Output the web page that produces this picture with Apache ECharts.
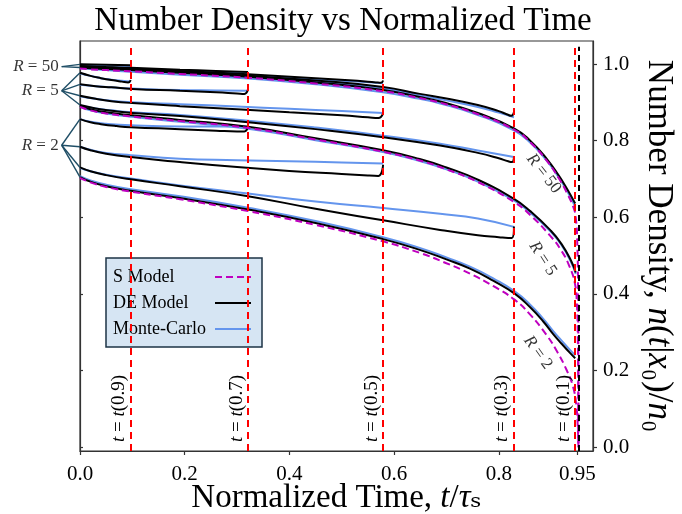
<!DOCTYPE html>
<html>
<head>
<meta charset="utf-8">
<script src="https://cdn.jsdelivr.net/npm/echarts@6/dist/echarts.min.js"></script>
<style>
  html, body { margin: 0; padding: 0; background: #ffffff; }
  #chart { width: 682px; height: 514px; }
</style>
</head>
<body>
<div id="chart"></div>
<script>
// ---- axis ticks and reference times ----
const xTicks = [0, 0.2, 0.4, 0.6, 0.8, 0.95];
const yTicks = [0, 0.2, 0.4, 0.6, 0.8, 1.0];
const cutTimes = [0.097, 0.321, 0.579, 0.829, 0.946];
const cutFractions = ['0.9', '0.7', '0.5', '0.3', '0.1'];
const singularTime = 0.952;

// ---- R = 50 : full curves [t/tau_s, n/n0] ----
const r50FullDE = [[0,0.991],[0.02,0.989],[0.05,0.987],[0.097,0.984],[0.191,0.977],[0.321,0.967],[0.45,0.952],[0.579,0.932],[0.649,0.914],[0.688,0.902],[0.76,0.872],[0.829,0.832],[0.86,0.800],[0.892,0.752],[0.915,0.708],[0.93,0.675],[0.946,0.636]];
const r50FullS  = [[0,0.988],[0.02,0.986],[0.05,0.984],[0.097,0.981],[0.191,0.974],[0.321,0.964],[0.45,0.949],[0.579,0.929],[0.649,0.911],[0.688,0.899],[0.76,0.869],[0.829,0.829],[0.86,0.796],[0.892,0.747],[0.915,0.701],[0.93,0.664],[0.942,0.628],[0.947,0.600],[0.950,0.530],[0.9515,0.400],[0.952,0.220],[0.9522,0]];
const r50FullMC = [[0,0.989],[0.02,0.987],[0.05,0.984],[0.097,0.980],[0.191,0.972],[0.321,0.962],[0.45,0.947],[0.579,0.926],[0.649,0.909],[0.688,0.897],[0.76,0.867],[0.829,0.827],[0.86,0.795],[0.892,0.747],[0.915,0.703],[0.93,0.670],[0.946,0.628]];
// ---- R = 50 : runs stopped at t(p) ----
const r50Cut09DE = [[0,0.999],[0.05,0.998],[0.097,0.997]];
const r50Cut09MC = [[0,0.998],[0.05,0.996],[0.097,0.995]];
const r50Cut07DE = [[0,0.995],[0.05,0.992],[0.097,0.990],[0.191,0.985],[0.26,0.982],[0.321,0.979]];
const r50Cut07MC = [[0,0.994],[0.05,0.991],[0.097,0.988],[0.191,0.983],[0.26,0.980],[0.321,0.977]];
const r50Cut05DE = [[0,0.994],[0.097,0.988],[0.191,0.982],[0.321,0.973],[0.45,0.963],[0.53,0.956],[0.565,0.952],[0.575,0.951],[0.579,0.957]];
const r50Cut05MC = [[0,0.993],[0.097,0.986],[0.191,0.980],[0.321,0.970],[0.45,0.960],[0.53,0.954],[0.579,0.950]];
const r50Cut03DE = [[0,0.992],[0.097,0.986],[0.191,0.979],[0.321,0.969],[0.45,0.957],[0.579,0.940],[0.649,0.922],[0.70,0.910],[0.76,0.893],[0.80,0.877],[0.815,0.869],[0.824,0.865],[0.829,0.874]];
const r50Cut03MC = [[0,0.991],[0.097,0.984],[0.191,0.977],[0.321,0.966],[0.45,0.954],[0.579,0.936],[0.649,0.918],[0.70,0.905],[0.76,0.888],[0.80,0.873],[0.829,0.861]];

// ---- R = 5 : full curves ----
const r5FullDE = [[0,0.891],[0.02,0.882],[0.05,0.874],[0.099,0.866],[0.191,0.854],[0.321,0.836],[0.45,0.806],[0.579,0.775],[0.649,0.752],[0.70,0.730],[0.76,0.698],[0.829,0.648],[0.86,0.616],[0.898,0.567],[0.92,0.530],[0.939,0.484],[0.947,0.456]];
const r5FullS  = [[0,0.888],[0.02,0.879],[0.05,0.871],[0.099,0.863],[0.191,0.851],[0.321,0.833],[0.45,0.803],[0.579,0.771],[0.649,0.748],[0.70,0.725],[0.76,0.692],[0.829,0.640],[0.86,0.606],[0.898,0.552],[0.92,0.512],[0.935,0.472],[0.945,0.430],[0.949,0.380],[0.951,0.280],[0.952,0.120],[0.9522,0]];
const r5FullMC = [[0,0.889],[0.02,0.879],[0.05,0.871],[0.099,0.862],[0.191,0.849],[0.321,0.831],[0.45,0.801],[0.579,0.770],[0.649,0.747],[0.70,0.725],[0.76,0.693],[0.829,0.644],[0.86,0.612],[0.898,0.564],[0.92,0.527],[0.939,0.480],[0.947,0.452]];
// ---- R = 5 : runs stopped at t(p) ----
const r5Cut09DE = [[0,0.977],[0.02,0.969],[0.04,0.963],[0.06,0.958],[0.08,0.954],[0.092,0.952],[0.097,0.958]];
const r5Cut09MC = [[0,0.976],[0.02,0.969],[0.04,0.963],[0.06,0.959],[0.08,0.956],[0.097,0.954]];
const r5Cut07DE = [[0,0.947],[0.03,0.942],[0.06,0.939],[0.1,0.935],[0.191,0.930],[0.26,0.926],[0.30,0.923],[0.314,0.922],[0.321,0.934]];
const r5Cut07MC = [[0,0.946],[0.03,0.942],[0.06,0.939],[0.1,0.936],[0.191,0.932],[0.26,0.931],[0.321,0.930]];
const r5Cut05DE = [[0,0.917],[0.03,0.909],[0.06,0.903],[0.1,0.898],[0.191,0.890],[0.3,0.882],[0.4,0.874],[0.5,0.866],[0.55,0.861],[0.57,0.859],[0.579,0.871]];
const r5Cut05MC = [[0,0.916],[0.03,0.909],[0.06,0.904],[0.1,0.900],[0.191,0.895],[0.3,0.889],[0.4,0.883],[0.5,0.877],[0.579,0.872]];
const r5Cut03DE = [[0,0.893],[0.03,0.884],[0.06,0.878],[0.1,0.872],[0.191,0.864],[0.321,0.848],[0.45,0.830],[0.579,0.809],[0.688,0.787],[0.76,0.768],[0.80,0.754],[0.818,0.746],[0.825,0.744],[0.829,0.756]];
const r5Cut03MC = [[0,0.892],[0.03,0.884],[0.06,0.879],[0.1,0.874],[0.191,0.867],[0.321,0.852],[0.45,0.834],[0.579,0.813],[0.688,0.792],[0.76,0.774],[0.829,0.757]];

// ---- R = 2 : full curves ----
const r2FullDE = [[0,0.705],[0.02,0.693],[0.05,0.681],[0.097,0.669],[0.191,0.650],[0.321,0.620],[0.45,0.585],[0.579,0.543],[0.649,0.515],[0.70,0.490],[0.745,0.466],[0.79,0.434],[0.831,0.400],[0.86,0.365],[0.885,0.328],[0.904,0.295],[0.92,0.270],[0.936,0.246],[0.946,0.232]];
const r2FullS  = [[0,0.703],[0.02,0.691],[0.05,0.679],[0.097,0.667],[0.191,0.647],[0.321,0.616],[0.45,0.580],[0.579,0.537],[0.649,0.507],[0.70,0.480],[0.745,0.453],[0.79,0.420],[0.83,0.385],[0.86,0.346],[0.89,0.295],[0.91,0.253],[0.93,0.200],[0.942,0.157],[0.948,0.110],[0.951,0.050],[0.9522,0]];
const r2FullMC = [[0,0.707],[0.02,0.696],[0.05,0.685],[0.097,0.673],[0.191,0.655],[0.321,0.625],[0.45,0.590],[0.579,0.548],[0.649,0.520],[0.70,0.495],[0.745,0.471],[0.79,0.440],[0.831,0.406],[0.86,0.372],[0.885,0.335],[0.904,0.303],[0.92,0.278],[0.936,0.254],[0.946,0.240]];
// ---- R = 2 : runs stopped at t(p) ----
const r2Cut07DE = [[0,0.856],[0.02,0.848],[0.04,0.843],[0.07,0.838],[0.097,0.835],[0.191,0.830],[0.26,0.826],[0.30,0.824],[0.314,0.824],[0.321,0.838]];
const r2Cut07MC = [[0,0.856],[0.02,0.849],[0.05,0.844],[0.097,0.840],[0.191,0.837],[0.26,0.837],[0.321,0.837]];
const r2Cut05DE = [[0,0.784],[0.02,0.775],[0.05,0.766],[0.097,0.757],[0.191,0.744],[0.3,0.731],[0.4,0.721],[0.5,0.713],[0.55,0.709],[0.57,0.708],[0.579,0.737]];
const r2Cut05MC = [[0,0.784],[0.02,0.776],[0.05,0.768],[0.097,0.762],[0.191,0.753],[0.3,0.749],[0.4,0.746],[0.5,0.743],[0.579,0.740]];
const r2Cut03DE = [[0,0.730],[0.02,0.720],[0.05,0.710],[0.097,0.699],[0.191,0.681],[0.321,0.655],[0.45,0.622],[0.579,0.592],[0.688,0.567],[0.76,0.553],[0.80,0.548],[0.818,0.546],[0.825,0.546],[0.829,0.576]];
const r2Cut03MC = [[0,0.729],[0.02,0.720],[0.05,0.711],[0.097,0.701],[0.191,0.683],[0.321,0.662],[0.45,0.641],[0.579,0.624],[0.688,0.609],[0.76,0.597],[0.829,0.575]];

// ---- styling ----
const FONT = "'Liberation Serif', 'DejaVu Serif', serif";
const C_S = '#bf00bf', C_DE = '#000000', C_MC = '#6495ed', C_CUT = '#ff0000', C_LINK = '#1f4e66';

function curve(name, data, color, dashed, z) {
  return {
    type: 'line', name: name, data: data, z: z,
    xAxisIndex: 0, yAxisIndex: 0,
    symbol: 'none', smooth: 0.5,
    lineStyle: { color: color, width: 2, type: dashed ? [7, 4] : 'solid' },
    itemStyle: { color: color },
    emphasis: { disabled: true }, silent: true
  };
}

const series = [];
const mcCurves = [r50FullMC, r50Cut09MC, r50Cut07MC, r50Cut05MC, r50Cut03MC,
                  r5FullMC, r5Cut09MC, r5Cut07MC, r5Cut05MC, r5Cut03MC,
                  r2FullMC, r2Cut07MC, r2Cut05MC, r2Cut03MC];
const deCurves = [r50FullDE, r50Cut09DE, r50Cut07DE, r50Cut05DE, r50Cut03DE,
                  r5FullDE, r5Cut09DE, r5Cut07DE, r5Cut05DE, r5Cut03DE,
                  r2FullDE, r2Cut07DE, r2Cut05DE, r2Cut03DE];
const sCurves = [r50FullS, r5FullS, r2FullS];
mcCurves.forEach(d => series.push(curve('Monte-Carlo', d, C_MC, false, 2)));
deCurves.forEach(d => series.push(curve('DE Model', d, C_DE, false, 3)));
sCurves.forEach(d => series.push(curve('S Model', d, C_S, true, 4)));

// vertical reference times t(p), labelled along the line
const italic = { fontStyle: 'italic', fontFamily: FONT, fontSize: 19, color: '#000' };
series.push({
  type: 'line', data: [], silent: true, z: 5,
  markLine: {
    silent: true, symbol: ['none', 'none'], animation: false,
    data: cutTimes.map((t, i) => [
      { coord: [t, -0.01],
        lineStyle: { color: C_CUT, width: 2, type: [7, 5] },
        label: {
          show: true, position: 'insideStartTop', distance: [9, 2],
          formatter: '{i|t} = {i|t}(' + cutFractions[i] + ')',
          fontFamily: FONT, fontSize: 19, color: '#000', rich: { i: italic }
        } },
      { coord: [t, 1.045] }
    ]).concat([[
      { coord: [singularTime, -0.01], lineStyle: { color: '#000', width: 2, type: [6, 4] }, label: { show: false } },
      { coord: [singularTime, 1.045] }
    ]])
  }
});

// curve family labels near the end of each family
const familyLabels = [
  { text: '50', at: [0.886, 0.714], rot: -52 },
  { text: '5',  at: [0.884, 0.492], rot: -57 },
  { text: '2',  at: [0.875, 0.247], rot: -54 }
];
familyLabels.forEach(f => series.push({
  type: 'scatter', data: [f.at], symbolSize: 0, silent: true, z: 6,
  label: {
    show: true, position: 'inside', rotate: f.rot,
    formatter: '{i|R} = ' + f.text,
    fontFamily: FONT, fontSize: 17, color: '#000',
    rich: { i: { fontStyle: 'italic', fontFamily: FONT, fontSize: 17, color: '#000' } }
  }
}));

// left-hand R labels; connectors to the starting points are added after layout
const linkX = -0.035;
const groups = [
  { text: '50', level: 0.993, starts: [r50Cut09DE, r50FullDE] },
  { text: '5',  level: 0.930, starts: [r5Cut09DE, r5Cut07DE, r5Cut05DE, r5Cut03DE] },
  { text: '2',  level: 0.788, starts: [r2Cut07DE, r2Cut05DE, r2Cut03DE, r2FullDE] }
];
groups.forEach(g => {
  series.push({
    type: 'scatter', data: [[linkX, g.level]], symbolSize: 0, clip: false, silent: true,
    label: {
      show: true, position: 'left', distance: 3,
      formatter: '{i|R} = ' + g.text,
      fontFamily: FONT, fontSize: 17, color: '#000',
      rich: { i: { fontStyle: 'italic', fontFamily: FONT, fontSize: 17, color: '#000' } }
    }
  });
});

const axisLineStyle = { color: '#333', width: 1.2 };

const option = {
  animation: false,
  backgroundColor: '#ffffff',
  title: {
    text: 'Number Density vs Normalized Time',
    left: 338, top: 0, textAlign: 'center',
    textStyle: { fontFamily: FONT, fontSize: 33, fontWeight: 'normal', color: '#000' }
  },
  grid: {
    left: 80, right: 89, top: 41, bottom: 63,
    show: true, borderColor: '#333', borderWidth: 1.2,
    outerBoundsMode: 'none', containLabel: false
  },
  legend: {
    orient: 'vertical', left: 106, top: 258,
    align: 'right', itemWidth: 36, itemHeight: 14, itemGap: 8,
    padding: [10, 10, 9, 7],
    backgroundColor: '#d6e5f3', borderColor: '#1c3346', borderWidth: 1.5, borderRadius: 0,
    data: ['S Model', 'DE Model', 'Monte-Carlo'],
    itemStyle: { opacity: 0 },
    formatter: name => '{a|' + name + '}',
    textStyle: {
      fontFamily: FONT, fontSize: 18, color: '#000', lineHeight: 18,
      rich: { a: { width: 97, align: 'left', fontFamily: FONT, fontSize: 18, color: '#000', lineHeight: 18 } }
    },
    selectedMode: false
  },
  xAxis: {
    type: 'value', min: 0, max: 0.98,
    axisLine: { show: true, onZero: false, lineStyle: axisLineStyle },
    axisTick: { show: true, customValues: xTicks, length: 4, lineStyle: axisLineStyle },
    axisLabel: {
      customValues: xTicks, margin: 13,
      formatter: v => (Math.abs(v - 0.95) < 1e-9 ? '0.95' : v.toFixed(1)),
      fontFamily: FONT, fontSize: 21, color: '#000'
    },
    splitLine: { show: false },
    name: 'Normalized Time, {i|t}/{i|τ}ₛ',
    nameLocation: 'middle', nameGap: 31, nameMoveOverlap: false,
    nameTextStyle: {
      fontFamily: FONT, fontSize: 33, color: '#000',
      rich: { i: { fontStyle: 'italic', fontFamily: FONT, fontSize: 33, color: '#000' } }
    }
  },
  yAxis: [{
    type: 'value', min: -0.01, max: 1.06, position: 'right',
    axisLine: { show: true, onZero: false, lineStyle: axisLineStyle },
    axisTick: { show: true, customValues: yTicks, length: 4, lineStyle: axisLineStyle },
    axisLabel: {
      customValues: yTicks, margin: 10,
      formatter: v => v.toFixed(1),
      fontFamily: FONT, fontSize: 21, color: '#000'
    },
    splitLine: { show: false },
    name: 'Number Density, {i|n}({i|t}|{i|x}₀)/{i|n}₀',
    nameLocation: 'middle', nameRotate: -90, nameGap: 48,
    nameTextStyle: {
      fontFamily: FONT, fontSize: 35, color: '#000',
      rich: { i: { fontStyle: 'italic', fontFamily: FONT, fontSize: 35, color: '#000' } }
    }
  }, {
    type: 'value', min: -0.01, max: 1.06, position: 'left',
    axisLine: { show: true, onZero: false, lineStyle: axisLineStyle },
    axisTick: { show: true, inside: true, customValues: yTicks, length: 3, lineStyle: axisLineStyle },
    axisLabel: { show: false },
    splitLine: { show: false }
  }],
  series: series
};

const chart = echarts.init(document.getElementById('chart'), null, { renderer: 'canvas' });
chart.setOption(option);

// connectors from each R label to the first value of its curves, placed with the chart's own scales
const finder = { xAxisIndex: 0, yAxisIndex: 0 };
const links = [];
groups.forEach(g => {
  const from = chart.convertToPixel(finder, [linkX, g.level]);
  g.starts.forEach(c => {
    const to = chart.convertToPixel(finder, [0, c[0][1]]);
    links.push({
      type: 'line', silent: true, z: 1,
      shape: { x1: from[0], y1: from[1], x2: to[0], y2: to[1] },
      style: { stroke: C_LINK, lineWidth: 1.4 }
    });
  });
});
chart.setOption({ graphic: links });
</script>
</body>
</html>
